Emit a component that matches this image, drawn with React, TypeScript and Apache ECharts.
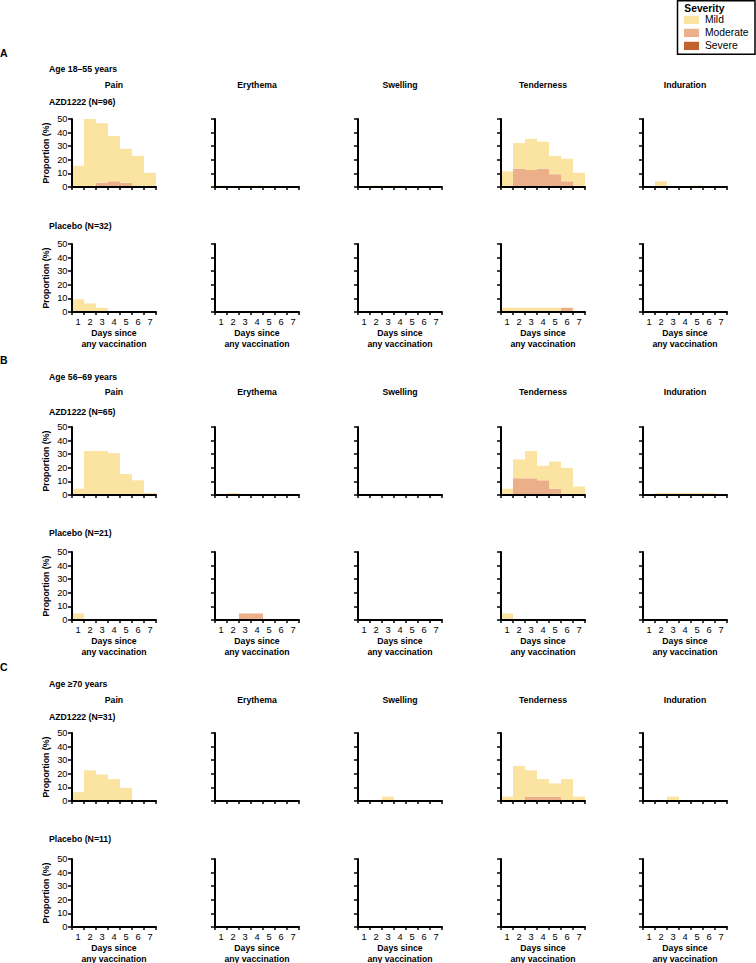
import React, { useEffect, useRef } from 'react';
import * as echarts from 'echarts';

// ---------- data ----------
const DAYS = ['1', '2', '3', '4', '5', '6', '7'];
const SYMPTOMS = ['Pain', 'Erythema', 'Swelling', 'Tenderness', 'Induration'];
const SEVERITIES = ['Mild', 'Moderate', 'Severe'];
const SEVERITY_COLORS: Record<string, string> = { Mild: '#FBE3A1', Moderate: '#EBB08A', Severe: '#C4622D' };
const Y_MIN = 0;
const Y_MAX = 50;
const Y_INTERVAL = 10;

const Z = [0, 0, 0, 0, 0, 0, 0];

// Rows in each array: Pain, Erythema, Swelling, Tenderness, Induration; columns: day 1..7 (%)
// Age 18–55 years
const a1855AzdMild = [
  [15.6, 50.0, 43.8, 33.3, 25.0, 22.9, 10.4],
  [1.0, 0, 1.0, 1.0, 0, 0, 0],
  [0, 1.0, 1.0, 1.0, 0, 0, 0],
  [11.5, 18.8, 22.9, 19.8, 13.5, 16.6, 10.4],
  [0, 4.2, 0, 0, 1.0, 0, 0],
];
const a1855AzdModerate = [[0, 0, 3.1, 4.2, 3.1, 0, 0], Z, Z, [0, 13.5, 12.5, 13.5, 9.4, 4.2, 0], Z];
const a1855AzdSevere = [Z, Z, Z, Z, Z];
const a1855PlaMild = [[9.4, 6.3, 3.1, 0, 0, 0, 0], Z, Z, [3.1, 3.1, 3.1, 3.1, 3.1, 0, 0], Z];
const a1855PlaModerate = [Z, Z, Z, [0, 0, 0, 0, 0, 3.1, 0], Z];
const a1855PlaSevere = [Z, Z, Z, Z, Z];

// Age 56–69 years
const a5669AzdMild = [
  [4.6, 32.3, 32.3, 30.8, 15.4, 10.8, 1.5],
  [0, 1.5, 0, 0, 0, 0, 0],
  Z,
  [4.6, 13.9, 20.0, 10.7, 20.0, 20.0, 6.2],
  [0, 1.5, 1.5, 1.5, 1.5, 1.5, 0],
];
const a5669AzdModerate = [Z, Z, Z, [0, 12.3, 12.3, 10.8, 4.6, 0, 0], Z];
const a5669AzdSevere = [Z, Z, Z, Z, Z];
const a5669PlaMild = [[4.8, 0, 0, 0, 0, 0, 0], Z, Z, [4.8, 0, 0, 0, 0, 0, 0], Z];
const a5669PlaModerate = [Z, [0, 0, 4.8, 4.8, 0, 0, 0], Z, Z, Z];
const a5669PlaSevere = [Z, Z, Z, Z, Z];

// Age ≥70 years
const a70AzdMild = [
  [6.5, 22.6, 19.4, 16.1, 9.7, 0, 0],
  Z,
  [0, 0, 3.2, 0, 0, 0, 0],
  [3.2, 25.8, 19.4, 12.9, 9.7, 16.1, 3.2],
  [0, 0, 3.2, 0, 0, 0, 0],
];
const a70AzdModerate = [Z, Z, Z, [0, 0, 3.2, 3.2, 3.2, 0, 0], Z];
const a70AzdSevere = [Z, Z, Z, Z, Z];
const a70PlaMild = [Z, Z, Z, Z, Z];
const a70PlaModerate = [Z, Z, Z, Z, Z];
const a70PlaSevere = [Z, Z, Z, Z, Z];

const GROUPS = [
  {
    letter: 'A', age: 'Age 18–55 years',
    arms: [
      { label: 'AZD1222 (N=96)', Mild: a1855AzdMild, Moderate: a1855AzdModerate, Severe: a1855AzdSevere },
      { label: 'Placebo (N=32)', Mild: a1855PlaMild, Moderate: a1855PlaModerate, Severe: a1855PlaSevere },
    ],
  },
  {
    letter: 'B', age: 'Age 56–69 years',
    arms: [
      { label: 'AZD1222 (N=65)', Mild: a5669AzdMild, Moderate: a5669AzdModerate, Severe: a5669AzdSevere },
      { label: 'Placebo (N=21)', Mild: a5669PlaMild, Moderate: a5669PlaModerate, Severe: a5669PlaSevere },
    ],
  },
  {
    letter: 'C', age: 'Age ≥70 years',
    arms: [
      { label: 'AZD1222 (N=31)', Mild: a70AzdMild, Moderate: a70AzdModerate, Severe: a70AzdSevere },
      { label: 'Placebo (N=11)', Mild: a70PlaMild, Moderate: a70PlaModerate, Severe: a70PlaSevere },
    ],
  },
];

// ---------- layout ----------
const FONT = "'Liberation Sans', Arial, Helvetica, sans-serif";
const COL_LEFT = [72, 215, 358, 501, 643];
const PLOT_W = 84;
const PLOT_H = 68;
const ROW_TOP = [119, 244, 427, 552, 733, 859];
const LETTER_Y = [53, 360, 667];
const AGE_Y = [69, 377, 684];
const TITLE_Y = [85, 392, 700];
const ARM_Y = [102, 226, 412, 533, 717, 839];

function buildOption() {
  const grid: any[] = [];
  const xAxis: any[] = [];
  const yAxis: any[] = [];
  const series: any[] = [];
  const graphic: any[] = [];

  const txt = (text: string, x: number, y: number, size: number, bold: boolean, align = 'left') => ({
    type: 'text',
    x,
    y,
    silent: true,
    style: {
      text,
      fill: '#000',
      fontSize: size,
      fontWeight: bold ? 'bold' : 'normal',
      fontFamily: FONT,
      align,
      textAlign: align,
      verticalAlign: 'middle',
      textVerticalAlign: 'middle',
    },
  });

  let gi = 0;
  GROUPS.forEach((g, gIdx) => {
    graphic.push(txt(g.letter, 0, LETTER_Y[gIdx], 10.5, true));
    graphic.push(txt(g.age, 49, AGE_Y[gIdx], 8.7, true));
    SYMPTOMS.forEach((s, sIdx) => {
      graphic.push(txt(s, COL_LEFT[sIdx] + PLOT_W / 2, TITLE_Y[gIdx], 8.7, true, 'center'));
    });
    g.arms.forEach((arm: any, aIdx) => {
      const rowIdx = gIdx * 2 + aIdx;
      const isBottom = aIdx === 1;
      graphic.push(txt(arm.label, 49, ARM_Y[rowIdx], 8.7, true));
      SYMPTOMS.forEach((sym, sIdx) => {
        grid.push({ left: COL_LEFT[sIdx], top: ROW_TOP[rowIdx], width: PLOT_W, height: PLOT_H, containLabel: false, outerBoundsMode: 'none' });
        xAxis.push({
          gridIndex: gi,
          type: 'category',
          data: DAYS,
          z: 3,
          axisLine: { show: true, lineStyle: { color: '#000', width: 2 } },
          axisTick: { show: true, length: 3, lineStyle: { color: '#000', width: 1.5 } },
          axisLabel: { show: isBottom, color: '#000', fontSize: 9.3, fontFamily: FONT, margin: 5 },
          splitLine: { show: false },
          name: isBottom ? 'Days since\nany vaccination' : '',
          nameLocation: 'middle',
          nameGap: 15,
          nameTextStyle: { color: '#000', fontSize: 8.7, fontWeight: 'bold', fontFamily: FONT, lineHeight: 11.3 },
        });
        yAxis.push({
          gridIndex: gi,
          type: 'value',
          min: Y_MIN,
          max: Y_MAX,
          interval: Y_INTERVAL,
          z: 3,
          splitLine: { show: false },
          axisLine: { show: true, lineStyle: { color: '#000', width: 2 } },
          axisTick: { show: true, length: 4, lineStyle: { color: '#000', width: 1.5 } },
          axisLabel: { show: sIdx === 0, color: '#000', fontSize: 9.3, fontFamily: FONT, margin: 4.5 },
          name: sIdx === 0 ? 'Proportion (%)' : '',
          nameLocation: 'middle',
          nameRotate: 90,
          nameGap: 22,
          nameTextStyle: { color: '#000', fontSize: 8.8, fontWeight: 'bold', fontFamily: FONT },
        });
        ['Severe', 'Moderate', 'Mild'].forEach((sev) => {
          series.push({
            type: 'bar',
            name: sev,
            xAxisIndex: gi,
            yAxisIndex: gi,
            stack: 'stack' + gi,
            data: arm[sev][sIdx],
            barWidth: '100%',
            barCategoryGap: 0,
            silent: true,
            itemStyle: { color: SEVERITY_COLORS[sev] },
            emphasis: { disabled: true },
          });
        });
        gi++;
      });
    });
  });

  // legend box and title
  graphic.push({
    type: 'rect',
    silent: true,
    shape: { x: 677.5, y: 0.75, width: 77.5, height: 53.5 },
    style: { fill: 'none', stroke: '#000', lineWidth: 1.5 },
  });
  graphic.push(txt('Severity', 684.3, 8.5, 10.3, true));

  return {
    animation: false,
    backgroundColor: '#fff',
    grid,
    xAxis,
    yAxis,
    series,
    graphic,
    legend: {
      data: SEVERITIES,
      orient: 'vertical',
      left: 684,
      top: 14.9,
      padding: 0,
      itemWidth: 15,
      itemHeight: 8.3,
      itemGap: 3,
      icon: 'rect',
      selectedMode: false,
      textStyle: { color: '#000', fontSize: 10.3, fontFamily: FONT, padding: [0, 0, 0, 1] },
    },
  };
}

export default function App() {
  const ref = useRef<HTMLDivElement>(null);
  useEffect(() => {
    if (!ref.current) return;
    const chart = echarts.init(ref.current, undefined, { renderer: 'svg' });
    chart.setOption(buildOption() as any);
    return () => chart.dispose();
  }, []);
  return <div ref={ref} style={{ position: 'absolute', left: 0, top: 0, width: 756, height: 963 }} />;
}
